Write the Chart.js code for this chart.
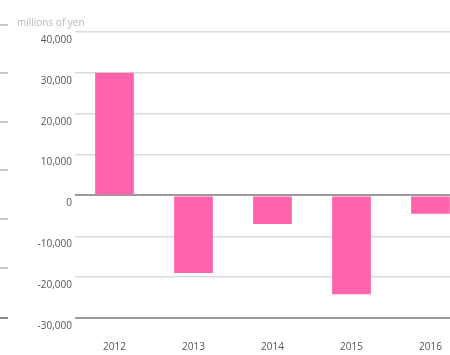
<!DOCTYPE html>
<html>
<head>
<meta charset="utf-8">
<script src="https://cdn.jsdelivr.net/npm/chart.js@4"></script>
<style>
  html, body { margin: 0; padding: 0; background: #fff; overflow: hidden; width: 450px; height: 355px; }
  #wrap { position: absolute; left: 0; top: 0; width: 472px; height: 355px; }
  #unit { position: absolute; left: 17px; top: 15px; font: 10px "Open Sans", sans-serif; color: #b8b8b8; }
  .dash { position: absolute; left: 0; width: 8px; height: 2px; background: #c8c8c8; }
</style>
</head>
<body>
<div id="wrap"><canvas id="c" width="472" height="355"></canvas></div>
<div id="unit">millions of yen</div>
<div class="dash" style="top:24px"></div>
<div class="dash" style="top:72px"></div>
<div class="dash" style="top:121px"></div>
<div class="dash" style="top:169px"></div>
<div class="dash" style="top:218px"></div>
<div class="dash" style="top:267px"></div>
<div class="dash" style="top:317px;background:#888"></div>
<script>
const categories = ["2012", "2013", "2014", "2015", "2016"];
const values = [30000, -19000, -7000, -24200, -4500];
const yMin = -30000;
const yMax = 40000;
const yStep = 10000;

const ctx = document.getElementById('c').getContext('2d');
new Chart(ctx, {
  type: 'bar',
  data: {
    labels: categories,
    datasets: [{
      data: values,
      backgroundColor: '#ff63ac',
      borderWidth: 0,
      barPercentage: 0.98,
      categoryPercentage: 0.5
    }]
  },
  options: {
    responsive: false,
    animation: false,
    devicePixelRatio: 1,
    layout: { padding: { top: 32, right: 2, left: 0, bottom: 0 } },
    plugins: { legend: { display: false }, tooltip: { enabled: false } },
    scales: {
      x: {
        grid: { display: false, drawTicks: false },
        border: { display: false },
        ticks: {
          padding: 23,
          color: '#555',
          font: { family: 'Open Sans', size: 10 }
        },
        afterFit: (s) => { s.height = 37; }
      },
      y: {
        min: yMin,
        max: yMax,
        border: { display: false },
        grid: {
          drawTicks: false,
          color: (c) => (c.tick && (c.tick.value === 0 || c.tick.value === yMin)) ? '#9a9a9a' : '#dcdcdc',
          lineWidth: (c) => (c.tick && (c.tick.value === 0 || c.tick.value === yMin)) ? 2 : 1.5
        },
        ticks: {
          stepSize: yStep,
          padding: 3,
          labelOffset: 8,
          color: '#555',
          font: { family: 'Open Sans', size: 10 },
          callback: (v) => v.toLocaleString('en-US')
        },
        afterFit: (s) => { s.width = 75; }
      }
    }
  }
});
</script>
</body>
</html>
